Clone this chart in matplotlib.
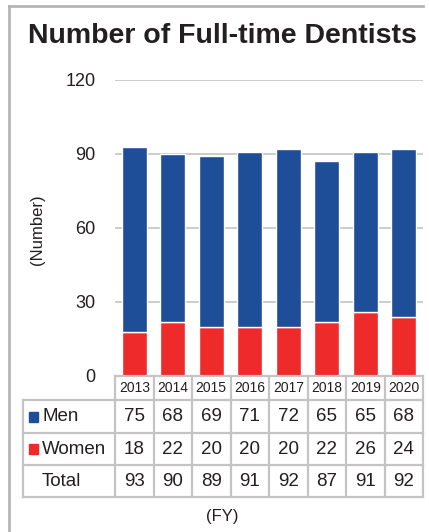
import matplotlib.pyplot as plt
from matplotlib.transforms import blended_transform_factory
from matplotlib.lines import Line2D
from matplotlib.patches import Rectangle

plt.rcParams['font.family'] = ['Liberation Sans', 'DejaVu Sans']

years = ['2013', '2014', '2015', '2016', '2017', '2018', '2019', '2020']
men = [75, 68, 69, 71, 72, 65, 65, 68]
women = [18, 22, 20, 20, 20, 22, 26, 24]
totals = [93, 90, 89, 91, 92, 87, 91, 92]
yticks = [0, 30, 60, 90, 120]

BLUE = '#1f4e99'
RED = '#ee2a2a'
GRID = '#c4c4c4'
TXT = '#231f20'

fig = plt.figure(figsize=(4.29, 5.32), dpi=100)
ax = fig.add_axes([115 / 429, 1 - 376 / 532, 308 / 429, 296 / 532])

x = list(range(len(years)))
ax.bar(x, women, width=0.64, color=RED, edgecolor='white', linewidth=1, zorder=3)
ax.bar(x, men, bottom=women, width=0.64, color=BLUE, edgecolor='white', linewidth=1, zorder=3)

ax.set_xlim(-0.5, len(years) - 0.5)
ax.set_ylim(0, 120)
ax.set_yticks(yticks)
ax.tick_params(axis='y', length=0, pad=14, labelsize=13, labelcolor=TXT)
ax.set_xticks([])
for s in ax.spines.values():
    s.set_visible(False)
ax.grid(axis='y', color=GRID, linewidth=1.2, zorder=0)

fig.text(0.519, 0.932, 'Number of Full-time Dentists', ha='center', va='center',
         fontsize=20.5, fontweight='bold', color=TXT)
fig.text(0.088, 0.568, '(Number)', rotation=90, ha='center', va='center',
         fontsize=12, color=TXT)
fig.text(0.517, 0.030, '(FY)', ha='center', va='center', fontsize=12, color=TXT)

# frame of the panel
fig.add_artist(Line2D([9 / 429, 9 / 429], [0, 1 - 6 / 532], color='#b5b5b5', lw=2))
fig.add_artist(Line2D([9 / 429, 423 / 429], [1 - 6 / 532, 1 - 6 / 532], color='#b5b5b5', lw=2))

# data table under the plot
tr = blended_transform_factory(ax.transData, fig.transFigure)
rows_px = [376, 400, 433, 465, 497]
rows = [1 - p / 532 for p in rows_px]
left = -0.5 - (115 - 23) / (308 / len(years))
right = len(years) - 0.5
tkw = dict(transform=tr, color=GRID, lw=1.6, clip_on=False, zorder=4)

# horizontal lines
fig.add_artist(Line2D([-0.5, right], [rows[0], rows[0]], **tkw))
for r in rows[1:]:
    fig.add_artist(Line2D([left, right], [r, r], **tkw))
# vertical lines
for i in range(len(years) + 1):
    fig.add_artist(Line2D([i - 0.5, i - 0.5], [rows[0], rows[-1]], **tkw))
fig.add_artist(Line2D([left, left], [rows[1], rows[-1]], **tkw))

for i, yr in enumerate(years):
    fig.text(i, (rows[0] + rows[1]) / 2, yr, transform=tr, ha='center', va='center',
             fontsize=10, color=TXT)

table_rows = [('Men', men, BLUE), ('Women', women, RED), ('Total', totals, None)]
for k, (label, vals, col) in enumerate(table_rows):
    yc = (rows[k + 1] + rows[k + 2]) / 2
    for i, v in enumerate(vals):
        fig.text(i, yc, str(v), transform=tr, ha='center', va='center',
                 fontsize=13.5, color=TXT)
    if col is not None:
        sq_x = 29 / 429
        fig.add_artist(Rectangle((sq_x, yc - 5 / 532), 9 / 429, 10 / 532,
                                 transform=fig.transFigure, color=col))
    fig.text(42 / 429, yc, label, ha='left', va='center', fontsize=13.5, color=TXT)

fig.savefig('out.png', dpi=100)
